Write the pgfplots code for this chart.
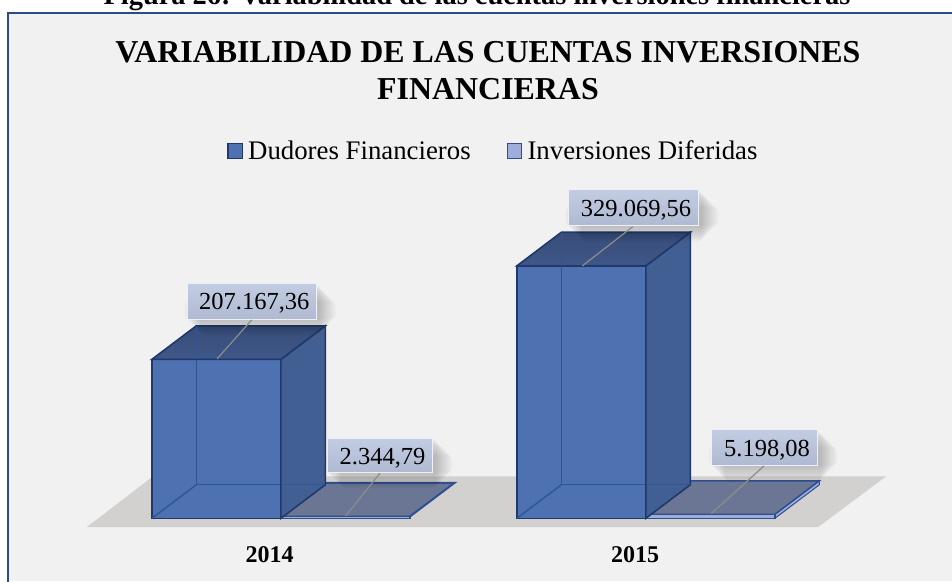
\documentclass[border=0pt]{standalone}
\usepackage{fontspec}
\setmainfont{Liberation Serif}
\usepackage{pgfplots}
\pgfplotsset{compat=1.18}
\definecolor{panel}{HTML}{F1F1F1}
\definecolor{frameblue}{HTML}{2A4C82}
\definecolor{floorgrey}{HTML}{D3D0D0}
\definecolor{frontA}{HTML}{4E72B1}
\definecolor{edgeA}{HTML}{1F3A6A}
\definecolor{innerA}{HTML}{2F5597}
\definecolor{sideA}{HTML}{425F93}
\definecolor{topA}{HTML}{3F5889}
\definecolor{topAb}{HTML}{384C78}
\definecolor{frontB}{HTML}{9DADDC}
\definecolor{edgeB}{HTML}{2F4F8F}
\definecolor{topB}{HTML}{6B7694}
\definecolor{labtop}{HTML}{C2CDE3}
\definecolor{labbot}{HTML}{AFBAD2}
\def\Y#1{(518.5-(#1))*1303}
\newcommand\shlayer[5]{\fill[black,opacity=0.022,rounded corners=5pt] (axis cs:#1+#5,{\Y{#2-#5}}) rectangle (axis cs:#3-#5,{\Y{#4+#5}});}
\newcommand\labbox[9]{%
  \shlayer{#1+7}{#2+7}{#3+10}{#4+10}{-10}
  \shlayer{#1+7}{#2+7}{#3+10}{#4+10}{-8}
  \shlayer{#1+7}{#2+7}{#3+10}{#4+10}{-6}
  \shlayer{#1+7}{#2+7}{#3+10}{#4+10}{-4}
  \shlayer{#1+7}{#2+7}{#3+10}{#4+10}{-2}
  \shlayer{#1+7}{#2+7}{#3+10}{#4+10}{0}
  \shlayer{#1+7}{#2+7}{#3+10}{#4+10}{1.5}
  \shlayer{#1+7}{#2+7}{#3+10}{#4+10}{3}
  \shlayer{#1+7}{#2+7}{#3+10}{#4+10}{4.5}
  \shlayer{#1+7}{#2+7}{#3+10}{#4+10}{6}
  \draw[draw=white!70!labtop,line width=1pt,top color=#9!100,bottom color=labbot] (axis cs:#1,{\Y{#2}}) rectangle (axis cs:#3,{\Y{#4}});
  \draw[draw=gray!90,line width=1.2pt] (axis cs:#5,{\Y{#6}}) -- (axis cs:#7,{\Y{#8}});
}
\newcommand\lab[3]{\node[anchor=base,inner sep=0pt,font=\fontsize{24.5}{28}\selectfont] at (axis cs:#1,{\Y{#2}}) {#3};}
\begin{document}
\begin{tikzpicture}[x=1pt,y=1pt]
\useasboundingbox (0,0) rectangle (952,581);
\fill[white] (0,0) rectangle (952,581);
\fill[panel] (8,0) rectangle (952,568);
\draw[frameblue,line width=2pt] (8,-3) -- (8,568) -- (955,568);
\node[anchor=base,inner sep=0pt,font=\bfseries\fontsize{28.4}{30}\selectfont] at (477,576.5) {Figura 26: Variabilidad de las cuentas inversiones financieras};
\begin{axis}[
  at={(0,0)},anchor=south west,scale only axis,
  width=952pt,height=581pt,
  xmin=0,xmax=952,
  ymin=-81612,ymax=675614,
  clip=false,
  axis line style={draw=none},
  tick style={draw=none},
  ytick=\empty,
  xtick={269.5,635},
  xticklabels={2014,2015},
  xticklabel style={anchor=base,yshift=18.5pt,font=\bfseries\fontsize{24}{28}\selectfont},
  title={VARIABILIDAD DE LAS CUENTAS INVERSIONES\\FINANCIERAS},
  title style={at={(axis cs:488,678000)},anchor=north,yshift=-49pt,align=center,inner sep=0pt,font=\bfseries\fontsize{31.9}{36.6}\selectfont},
  legend columns=2,
  legend style={at={(axis cs:227,479000)},anchor=west,draw=none,fill=none,inner sep=0pt,
    font=\fontsize{26.8}{30}\selectfont,
    /tikz/every even column/.append style={column sep=34pt},
    nodes={inner sep=2pt}},
  legend cell align=left,
  legend image code/.code={\draw[#1,line width=1.3pt] (0pt,-7.5pt) rectangle (14.5pt,7.5pt);\path (17.5pt,0pt);},
]
% floor
\addplot[forget plot,fill=floorgrey,draw=none] coordinates {(86.7,-11466)(818,-11466)(886,54726)(153,54726)} -- cycle;

% flat bars: upper and right faces
\addplot[forget plot,fill=topB,draw=edgeB,line width=2pt] coordinates {(280.8,2344.79)(409.8,2344.79)(454.3,46126)(325.3,46126)} -- cycle;
\addplot[forget plot,fill=frontB,draw=edgeB,line width=1pt] coordinates {(774.8,0)(819.3,43781)(819.3,48979)(774.8,5198.08)} -- cycle;
\addplot[forget plot,fill=topB,draw=edgeB,line width=1.5pt] coordinates {(645.8,5198.08)(774.8,5198.08)(819.3,48979)(690.3,48979)} -- cycle;

% front faces
\addplot[ybar,bar shift=0pt,bar width=129,fill=frontA,draw=edgeA,line width=1.6pt] coordinates {(216.3,207167.36)(581.3,329069.56)};
\addplot[ybar,bar shift=0pt,bar width=129,fill=frontB,draw=edgeB,line width=1.4pt] coordinates {(345.3,2344.79)(710.3,5198.08)};
\legend{Dudores Financieros,Inversiones Diferidas}

% back edges seen through the tall bars
\addplot[forget plot,draw=innerA,line width=1.4pt] coordinates {(196.3,207167)(196.3,43781)(280.8,43781)};
\addplot[forget plot,draw=innerA,line width=1.4pt] coordinates {(151.8,0)(196.3,43781)};
\addplot[forget plot,draw=innerA,line width=1.4pt] coordinates {(561.3,329070)(561.3,43781)(645.8,43781)};
\addplot[forget plot,draw=innerA,line width=1.4pt] coordinates {(516.8,0)(561.3,43781)};

% side and top faces of the tall bars
\addplot[forget plot,fill=sideA,draw=edgeA,line width=1.6pt] coordinates {(280.8,0)(325.3,43781)(325.3,250948)(280.8,207167.36)} -- cycle;
\addplot[forget plot,draw=edgeA,line width=1.6pt,top color=topAb,bottom color=topA] coordinates {(151.8,207167.36)(280.8,207167.36)(325.3,250948)(196.3,250948)} -- cycle;
\addplot[forget plot,fill=sideA,draw=edgeA,line width=1.6pt] coordinates {(645.8,0)(690.3,43781)(690.3,372851)(645.8,329069.56)} -- cycle;
\addplot[forget plot,draw=edgeA,line width=1.6pt,top color=topAb,bottom color=topA] coordinates {(516.8,329069.56)(645.8,329069.56)(690.3,372851)(561.3,372851)} -- cycle;
\addplot[forget plot,draw=innerA,line width=1.2pt,opacity=0.8] coordinates {(196.3,250948)(196.3,207167)};
\addplot[forget plot,draw=innerA,line width=1.2pt,opacity=0.8] coordinates {(561.3,372851)(561.3,329070)};
\addplot[forget plot,draw=innerA,line width=1.2pt,opacity=0.8] coordinates {(280.8,43781)(325.3,43781)};
\addplot[forget plot,draw=innerA,line width=1.2pt,opacity=0.8] coordinates {(645.8,43781)(690.3,43781)};

% data labels
\labbox{187.3}{284}{316}{319.3}{217}{359}{251.7}{320}{labtop}
\lab{254.3}{310}{207.167,36}
\labbox{327.7}{438.3}{432.7}{472.7}{345.7}{516}{380}{473.3}{labtop}
\lab{382.5}{464.3}{2.344,79}
\labbox{568.3}{190}{698.3}{225.7}{582.3}{266}{632.7}{226.7}{labtop}
\lab{636}{216.7}{329.069,56}
\labbox{711.7}{430}{817.3}{465.7}{711.3}{513.7}{764}{466}{labtop}
\lab{767}{456.7}{5.198,08}
\end{axis}
\end{tikzpicture}
\end{document}
